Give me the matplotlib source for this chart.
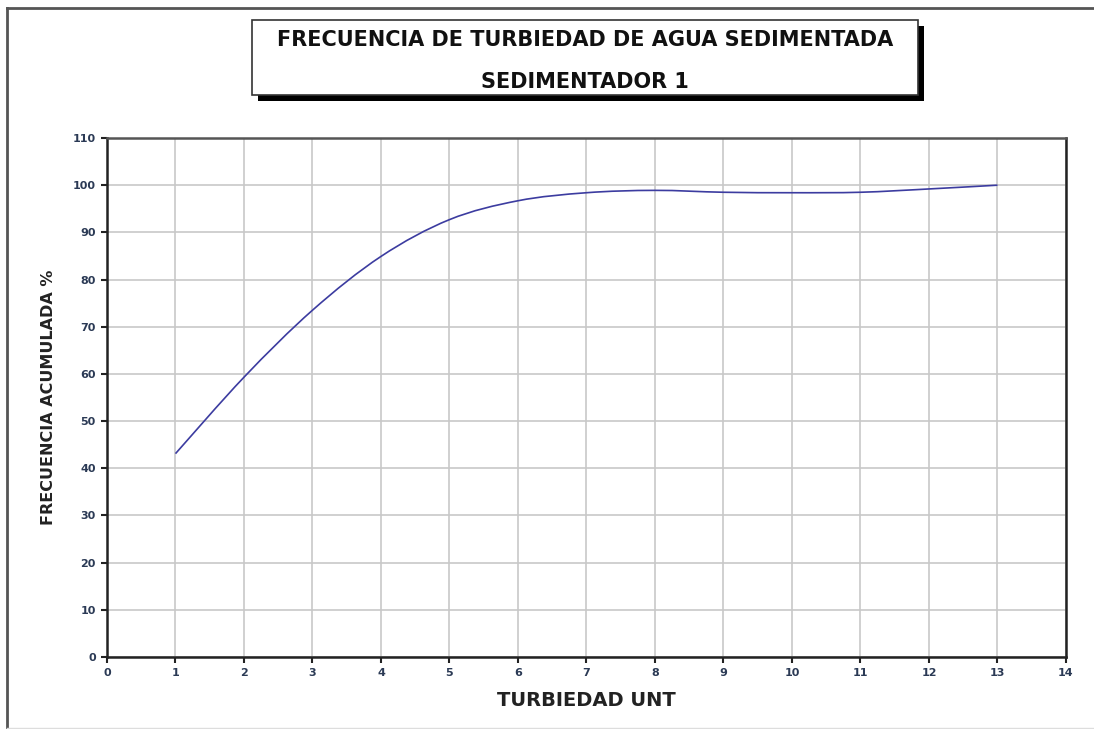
import matplotlib
matplotlib.use('Agg')
import matplotlib.pyplot as plt
from matplotlib.path import Path
from matplotlib.patches import PathPatch, Rectangle
from matplotlib.lines import Line2D

# Data
turbiedad = [1, 2, 3, 4, 5, 6, 7, 8, 9, 10, 11, 12, 13]
frecuencia = [43.1, 59.3, 73.5, 84.9, 92.7, 96.7, 98.4, 98.9, 98.5, 98.4, 98.5, 99.2, 100.0]

x_ticks = list(range(0, 15))
y_ticks = list(range(0, 111, 10))

title_line1 = 'FRECUENCIA DE TURBIEDAD DE AGUA SEDIMENTADA'
title_line2 = 'SEDIMENTADOR 1'
x_label = 'TURBIEDAD UNT'
y_label = 'FRECUENCIA ACUMULADA %'

tick_color = '#2b3a55'
line_color = '#3c3ca0'


# Smoothed line like the spreadsheet one (Catmull-Rom as Bezier segments)
def smooth_path(xs, ys):
    pts = list(zip(xs, ys))
    verts = [pts[0]]
    codes = [Path.MOVETO]
    for i in range(len(pts) - 1):
        p0 = pts[i - 1] if i > 0 else pts[i]
        p1 = pts[i]
        p2 = pts[i + 1]
        p3 = pts[i + 2] if i + 2 < len(pts) else pts[i + 1]
        c1 = (p1[0] + (p2[0] - p0[0]) / 6, p1[1] + (p2[1] - p0[1]) / 6)
        c2 = (p2[0] - (p3[0] - p1[0]) / 6, p2[1] - (p3[1] - p1[1]) / 6)
        verts += [c1, c2, p2]
        codes += [Path.CURVE4] * 3
    return Path(verts, codes)


fig = plt.figure(figsize=(10.94, 7.29), dpi=100)
ax = fig.add_axes([0.0978, 0.0988, 0.8766, 0.7119])

ax.add_patch(PathPatch(smooth_path(turbiedad, frecuencia), facecolor='none',
                       edgecolor=line_color, linewidth=1.2, zorder=3))

ax.set_xlim(0, 14)
ax.set_ylim(0, 110)
ax.set_xticks(x_ticks)
ax.set_yticks(y_ticks)
ax.grid(True, color='#c8c8c8', linewidth=1.2)
ax.set_axisbelow(True)
for side in ['left', 'bottom', 'right', 'top']:
    ax.spines[side].set_color('#222222')
    ax.spines[side].set_linewidth(1.8)
ax.spines['top'].set_color('#555555')
ax.tick_params(direction='out', length=4, width=1.5, color='#222222',
               labelsize=8, labelcolor=tick_color, pad=4)
for lbl in ax.get_xticklabels() + ax.get_yticklabels():
    lbl.set_fontweight('bold')

ax.set_xlabel(x_label, fontsize=14, fontweight='bold', color='#222222', labelpad=9)
ax.set_ylabel(y_label, fontsize=11.5, fontweight='bold', color='#222222', labelpad=12)

# Title box with shadow
shadow = Rectangle((0.2358, 0.861), 0.609, 0.103, transform=fig.transFigure,
                   facecolor='black', edgecolor='none', zorder=1)
box = Rectangle((0.2305, 0.869), 0.609, 0.103, transform=fig.transFigure,
                facecolor='white', edgecolor='#333333', linewidth=1.2, zorder=2)
fig.patches.extend([shadow, box])
fig.text(0.535, 0.945, title_line1, ha='center', va='center', fontsize=15,
         fontweight='bold', color='#111111', zorder=3)
fig.text(0.535, 0.887, title_line2, ha='center', va='center', fontsize=15,
         fontweight='bold', color='#111111', zorder=3)

# Outer frame lines
fig.add_artist(Line2D([0.006, 0.006], [0.0, 0.989], transform=fig.transFigure,
                      color='#555555', linewidth=2))
fig.add_artist(Line2D([0.006, 1.0], [0.989, 0.989], transform=fig.transFigure,
                      color='#555555', linewidth=2))
fig.add_artist(Line2D([0.006, 1.0], [0.002, 0.002], transform=fig.transFigure,
                      color='#dddddd', linewidth=1))

fig.savefig('out.png', dpi=100)
